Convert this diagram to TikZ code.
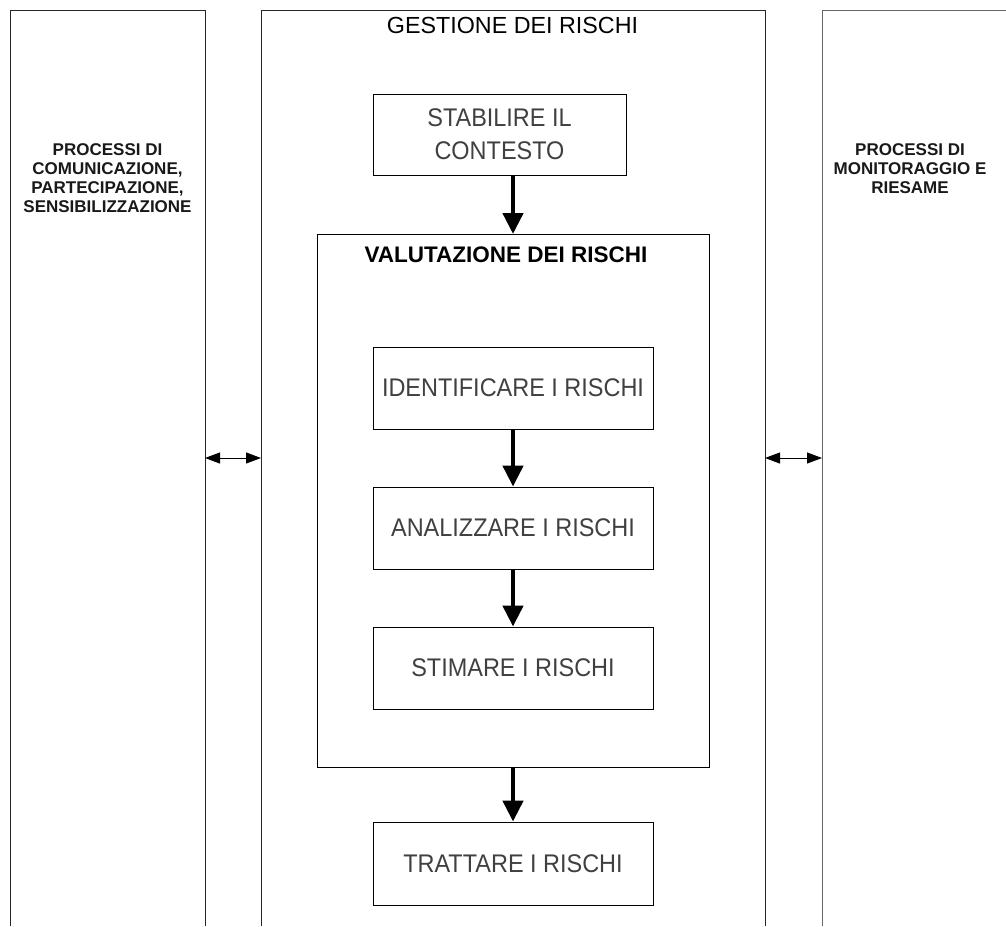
\documentclass[tikz,border=0pt]{standalone}
\usepackage{fontspec}
\setmainfont{Liberation Sans}
\newfontfamily\narrowfont[FakeStretch=0.92]{Liberation Sans}
\usetikzlibrary{arrows.meta}
\begin{document}
\begin{tikzpicture}[x=1pt,y=-1pt,
  colline/.style={draw=black!85,line width=0.9pt},
  stepbox/.style={draw=black,line width=0.9pt,minimum width=#1,minimum height=82pt,inner sep=0pt,align=center,font=\narrowfont\fontsize{25.5}{33}\selectfont,text=black!75},
  sidetext/.style={align=center,font=\bfseries\fontsize{17}{19}\selectfont,text=black!90},
  flow/.style={line width=4.5pt,-{Triangle[length=21pt,width=20pt]},shorten >=0pt},
  link/.style={line width=1pt,{Triangle[length=15pt,width=11pt]}-{Triangle[length=15pt,width=11pt]}}]
\useasboundingbox (0,0) rectangle (1006,926);
% columns
\draw[colline] (10,926) -- (10,10) -- (205,10) -- (205,926);
\draw[colline] (261,926) -- (261,10) -- (765,10) -- (765,926);
\draw[colline,draw=black!60] (822,926) -- (822,10) -- (1010,10);
\node[sidetext] (left) at (107.5,178) {PROCESSI DI\\COMUNICAZIONE,\\PARTECIPAZIONE,\\SENSIBILIZZAZIONE};
\node[sidetext] (right) at (910,169) {PROCESSI DI\\MONITORAGGIO E\\RIESAME};
\node[font=\fontsize{23.3}{26}\selectfont] (title) at (512.5,25) {GESTIONE DEI RISCHI};
% boxes
\node[stepbox=253pt,minimum height=81pt] (ctx) at (499.5,134.5) {STABILIRE IL\\CONTESTO};
\node[draw=black,line width=0.9pt,minimum width=392pt,minimum height=533pt,inner sep=0pt] (val) at (513,500.5) {};
\node[font=\bfseries\fontsize{22.5}{25}\selectfont] (valt) at (506,255) {VALUTAZIONE DEI RISCHI};
\node[stepbox=280pt] (id) at (513,388) {IDENTIFICARE I RISCHI};
\node[stepbox=280pt] (an) at (513,528) {ANALIZZARE I RISCHI};
\node[stepbox=280pt] (st) at (513,668) {STIMARE I RISCHI};
\node[stepbox=280pt,minimum height=83pt] (tr) at (513,863.5) {TRATTARE I RISCHI};
% flow arrows
\draw[flow] (513,175) -- (513,234);
\draw[flow] (id.south) -- (an.north);
\draw[flow] (an.south) -- (st.north);
\draw[flow] (val.south) -- (tr.north);
% links
\coordinate (l1) at (205,458);
\coordinate (l2) at (261,458);
\coordinate (r1) at (765,458);
\coordinate (r2) at (822,458);
\draw[link] (l1) -- (l2);
\draw[link] (r1) -- (r2);
\end{tikzpicture}
\end{document}
